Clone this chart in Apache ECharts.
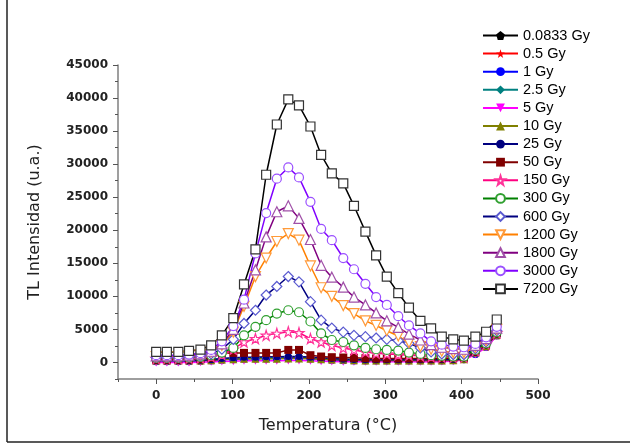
<!DOCTYPE html>
<html>
<head>
<meta charset="utf-8">
<script src="https://cdn.jsdelivr.net/npm/echarts@6/dist/echarts.min.js"></script>
<style>html,body{margin:0;padding:0;background:#fff;}#c{width:630px;height:444px;}</style>
</head>
<body>
<div id="c"></div>
<script>
// Temperature samples (°C)
const temps = [0,14,29,43,58,72,86,101,115,130,144,158,173,187,202,216,230,245,259,274,288,302,317,331,346,360,374,389,403,418,432,446];
const doseLabels = ['0.0833 Gy','0.5 Gy','1 Gy','2.5 Gy','5 Gy','10 Gy','25 Gy','50 Gy','150 Gy','300 Gy','600 Gy','1200 Gy','1800 Gy','3000 Gy','7200 Gy'];
const xTickLabels = [0,100,200,300,400,500];
const yTickLabels = [0,5000,10000,15000,20000,25000,30000,35000,40000,45000];

const d0083 = [300,300,300,300,350,400,500,600,700,700,750,750,800,800,700,600,500,450,400,400,400,400,400,400,400,400,400,450,600,1400,2400,4100];
const d05   = [250,250,250,250,300,350,450,550,600,650,700,700,750,750,650,550,450,400,350,350,350,350,350,350,350,350,350,400,550,1400,2400,4100];
const d1    = [200,200,200,200,250,300,400,500,550,600,600,650,650,650,600,500,400,350,300,300,300,300,300,300,300,300,300,350,500,1300,2400,4100];
const d25   = [350,350,350,350,400,450,550,650,700,750,750,800,850,850,750,650,550,500,450,450,450,450,450,450,450,450,450,500,600,1400,2500,4200];
const d5    = [0,0,0,0,50,100,150,200,250,250,250,250,300,300,250,200,150,100,100,100,100,100,100,100,100,100,150,200,400,1200,2300,4000];
const d10   = [300,300,300,300,300,350,450,500,550,550,550,550,600,600,550,500,450,400,350,300,300,300,300,300,300,300,300,350,500,1500,2500,4200];
const d25g  = [300,300,300,300,350,400,600,700,800,800,850,850,900,900,800,700,600,500,450,400,400,400,400,400,400,400,400,450,550,1500,2600,4300];
const d50   = [400,400,400,450,500,700,1400,1450,1450,1450,1450,1450,1900,1900,1100,900,800,750,700,650,600,600,600,600,600,600,600,650,700,1600,2700,4400];
const d150  = [600,600,600,650,700,900,1200,2000,3100,3600,4100,4400,4650,4500,3600,3100,2600,2200,1900,1600,1400,1300,1200,1100,1000,900,800,800,800,1800,2800,4500];
const d300  = [700,700,700,750,850,1100,1500,2200,4100,5400,6400,7400,7900,7600,6200,4400,3400,3100,2600,2200,2000,1900,1800,1500,1300,1100,1000,900,900,1900,2900,4600];
const d600  = [800,800,800,850,1000,1300,2000,3500,5900,7900,10200,11500,13000,12200,9200,6400,5200,4600,4100,3900,3700,3500,3300,2900,2200,1600,1300,1200,1200,2100,3100,4800];
const d1200 = [900,900,900,1000,1200,1600,2600,4600,8500,13000,15800,18300,19500,18500,14600,11300,10000,8600,7400,6300,5600,4800,4000,3000,2400,2000,1700,1500,1500,2300,3300,5000];
const d1800 = [1000,1000,1000,1100,1300,1700,2800,5000,9000,14000,19000,22800,23700,21800,18600,14700,12900,11400,9900,8700,7500,6300,5300,4300,3400,2700,2300,2100,2000,2600,3600,5200];
const d3000 = [1100,1100,1100,1200,1400,1900,3200,5500,9500,16500,22600,27800,29500,28000,24300,20200,18500,15800,14100,11900,9900,8700,7000,5600,4400,3200,2700,2400,2300,2800,3800,5400];
const d7200 = [1600,1600,1600,1750,1950,2600,4100,6700,11800,17100,28400,36000,39800,38900,35700,31400,28600,27100,23700,19800,16200,13000,10500,8300,6300,5150,3900,3500,3300,3900,4650,6500];

const values = [d0083,d05,d1,d25,d5,d10,d25g,d50,d150,d300,d600,d1200,d1800,d3000,d7200];

const PENT = 'path://M5,0 L10,3.8 L8.1,10 L1.9,10 L0,3.8 Z';
const STAR = 'path://M50,0 L61,35 L98,35 L68,57 L79,91 L50,70 L21,91 L32,57 L2,35 L39,35 Z';
const DOWN = 'path://M0,0 L10,0 L5,9 Z';
const UP = 'path://M5,0 L10,9 L0,9 Z';

const styles = [
  {line:'#000000', sym:PENT, size:8, fill:'#000000', border:'#000000'},
  {line:'#FF0000', sym:STAR, size:9, fill:'#FF0000', border:'#FF0000'},
  {line:'#0000FF', sym:'circle', size:8, fill:'#0000FF', border:'#0000FF'},
  {line:'#008080', sym:'diamond', size:9, fill:'#008080', border:'#008080'},
  {line:'#FF00FF', sym:DOWN, size:8, fill:'#FF00FF', border:'#FF00FF'},
  {line:'#808000', sym:UP, size:8, fill:'#808000', border:'#808000'},
  {line:'#000080', sym:'circle', size:7, fill:'#000080', border:'#000080'},
  {line:'#800000', sym:'rect', size:8, fill:'#800000', border:'#800000'},
  {line:'#FF0080', sym:STAR, size:10, fill:'#FFFFFF', border:'#FF3399'},
  {line:'#008000', sym:'circle', size:9, fill:'#FFFFFF', border:'#30A030'},
  {line:'#000080', sym:'diamond', size:10, fill:'#FFFFFF', border:'#5A5AD0'},
  {line:'#FF8000', sym:DOWN, size:10, fill:'#FFFFFF', border:'#FF9A3A'},
  {line:'#800080', sym:UP, size:10, fill:'#FFFFFF', border:'#A050A8'},
  {line:'#8000FF', sym:'circle', size:9, fill:'#FFFFFF', border:'#9A50FF'},
  {line:'#000000', sym:'rect', size:9, fill:'#FFFFFF', border:'#333333'}
];

const series = doseLabels.map((name, k) => ({
  name: name,
  type: 'line',
  xAxisIndex: 0,
  yAxisIndex: 0,
  data: temps.map((t, i) => [t, values[k][i]]),
  symbol: styles[k].sym,
  symbolSize: styles[k].size,
  showAllSymbol: true,
  lineStyle: {color: styles[k].line, width: 1.5},
  itemStyle: {color: styles[k].fill, borderColor: styles[k].border, borderWidth: styles[k].fill === '#FFFFFF' ? 1.2 : 0},
  emphasis: {disabled: true},
  animation: false
}));

const FONT = '"Liberation Sans", Arial, sans-serif';
const WIDE = '"DejaVu Sans", sans-serif';
const chart = echarts.init(document.getElementById('c'), null, {renderer: 'canvas'});
chart.setOption({
  backgroundColor: '#ffffff',
  animation: false,
  grid: {left: 118, right: 92, top: 65, bottom: 65, containLabel: false},
  xAxis: [{
    type: 'value', min: -50, max: 500, interval: 50,
    name: 'Temperatura (°C)', nameLocation: 'middle', nameGap: 39,
    nameTextStyle: {fontFamily: WIDE, fontSize: 16, color: '#222'},
    axisLine: {show: true, onZero: false, lineStyle: {color: '#7f7f7f', width: 1.5}},
    axisTick: {show: true, inside: false, length: 3, lineStyle: {color: '#555'}},
    axisLabel: {margin: 11, fontFamily: WIDE, fontSize: 12, fontWeight: 'bold', color: '#222',
      formatter: v => (xTickLabels.indexOf(v) >= 0 ? String(v) : '')},
    splitLine: {show: false}
  }, {
    type: 'value', min: -50, max: 500, position: 'bottom', gridIndex: 0,
    axisLine: {show: false, onZero: false},
    axisTick: {show: true, length: 5, customValues: xTickLabels, lineStyle: {color: '#555'}},
    axisLabel: {show: false},
    splitLine: {show: false}
  }],
  yAxis: [{
    type: 'value', min: -2500, max: 45000, interval: 2500,
    name: 'TL Intensidad (u.a.)', nameLocation: 'middle', nameGap: 75,
    nameTextStyle: {fontFamily: WIDE, fontSize: 16, color: '#222'},
    axisLine: {show: true, onZero: false, lineStyle: {color: '#7f7f7f', width: 1.5}},
    axisTick: {show: true, inside: false, length: 3, lineStyle: {color: '#555'}},
    axisLabel: {margin: 10, fontFamily: WIDE, fontSize: 12, fontWeight: 'bold', color: '#222',
      formatter: v => (yTickLabels.indexOf(v) >= 0 ? String(v) : '')},
    splitLine: {show: false}
  }, {
    type: 'value', min: -2500, max: 45000, position: 'left', gridIndex: 0,
    axisLine: {show: false, onZero: false},
    axisTick: {show: true, length: 5, customValues: yTickLabels, lineStyle: {color: '#555'}},
    axisLabel: {show: false},
    splitLine: {show: false}
  }],
  legend: {
    orient: 'vertical', left: 477, top: 23,
    itemWidth: 35, itemHeight: 11, itemGap: 3.1,
    textStyle: {fontFamily: FONT, fontSize: 14.5, lineHeight: 14, color: '#000'},
    data: doseLabels
  },
  graphic: [
    {type: 'line', shape: {x1: 7, y1: 0, x2: 7, y2: 442}, style: {stroke: '#222', lineWidth: 1.5}},
    {type: 'line', shape: {x1: 7, y1: 442, x2: 630, y2: 442}, style: {stroke: '#222', lineWidth: 1.5}}
  ],
  series: series
});
</script>
</body>
</html>
